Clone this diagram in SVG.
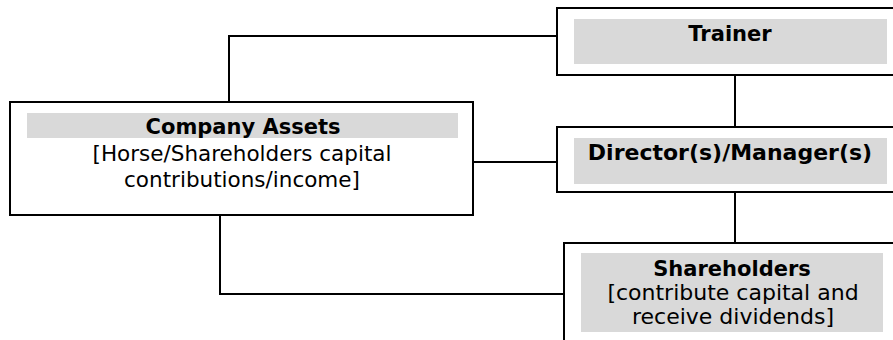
<svg xmlns="http://www.w3.org/2000/svg" width="893" height="340" viewBox="0 0 893 340">
  <style>
    .box { fill: #ffffff; stroke: #000000; stroke-width: 2; }
    .band { fill: #d9d9d9; }
    .wire { fill: none; stroke: #000000; stroke-width: 2; }
    text { font-family: "DejaVu Sans", Verdana, sans-serif; font-size: 21px; fill: #000000; text-anchor: middle; }
    .title { font-weight: bold; }
    .wide { font-size: 22px; }
    .mid { font-size: 21.5px; }
  </style>
  <rect width="893" height="340" fill="#ffffff"/>

  <!-- connectors -->
  <g id="connectors">
    <polyline class="wire" points="229,102 229,36 557,36"/>
    <line class="wire" x1="473" y1="162" x2="557" y2="162"/>
    <line class="wire" x1="735" y1="75" x2="735" y2="127"/>
    <line class="wire" x1="735" y1="192" x2="735" y2="243"/>
    <polyline class="wire" points="220,215 220,294 564,294"/>
  </g>

  <!-- nodes -->
  <g id="company-assets">
    <rect class="box" x="10" y="102" width="463" height="113"/>
    <rect class="band" x="27" y="113" width="431" height="25"/>
    <text class="title" x="243" y="134">Company Assets</text>
    <text class="mid" x="242" y="161">[Horse/Shareholders capital</text>
    <text class="mid" x="242" y="187">contributions/income]</text>
  </g>

  <g id="trainer">
    <rect class="box" x="557" y="8" width="345" height="67"/>
    <rect class="band" x="574" y="19" width="313" height="45"/>
    <text class="title" x="730" y="41">Trainer</text>
  </g>

  <g id="directors-managers">
    <rect class="box" x="557" y="127" width="345" height="65"/>
    <rect class="band" x="574" y="138" width="313" height="46"/>
    <text class="title wide" x="730" y="160">Director(s)/Manager(s)</text>
  </g>

  <g id="shareholders">
    <rect class="box" x="564" y="243" width="340" height="110"/>
    <rect class="band" x="581" y="253" width="302" height="79"/>
    <text class="title" x="732" y="276">Shareholders</text>
    <text class="wide" x="733" y="300">[contribute capital and</text>
    <text class="wide" x="733" y="324">receive dividends]</text>
  </g>
</svg>
